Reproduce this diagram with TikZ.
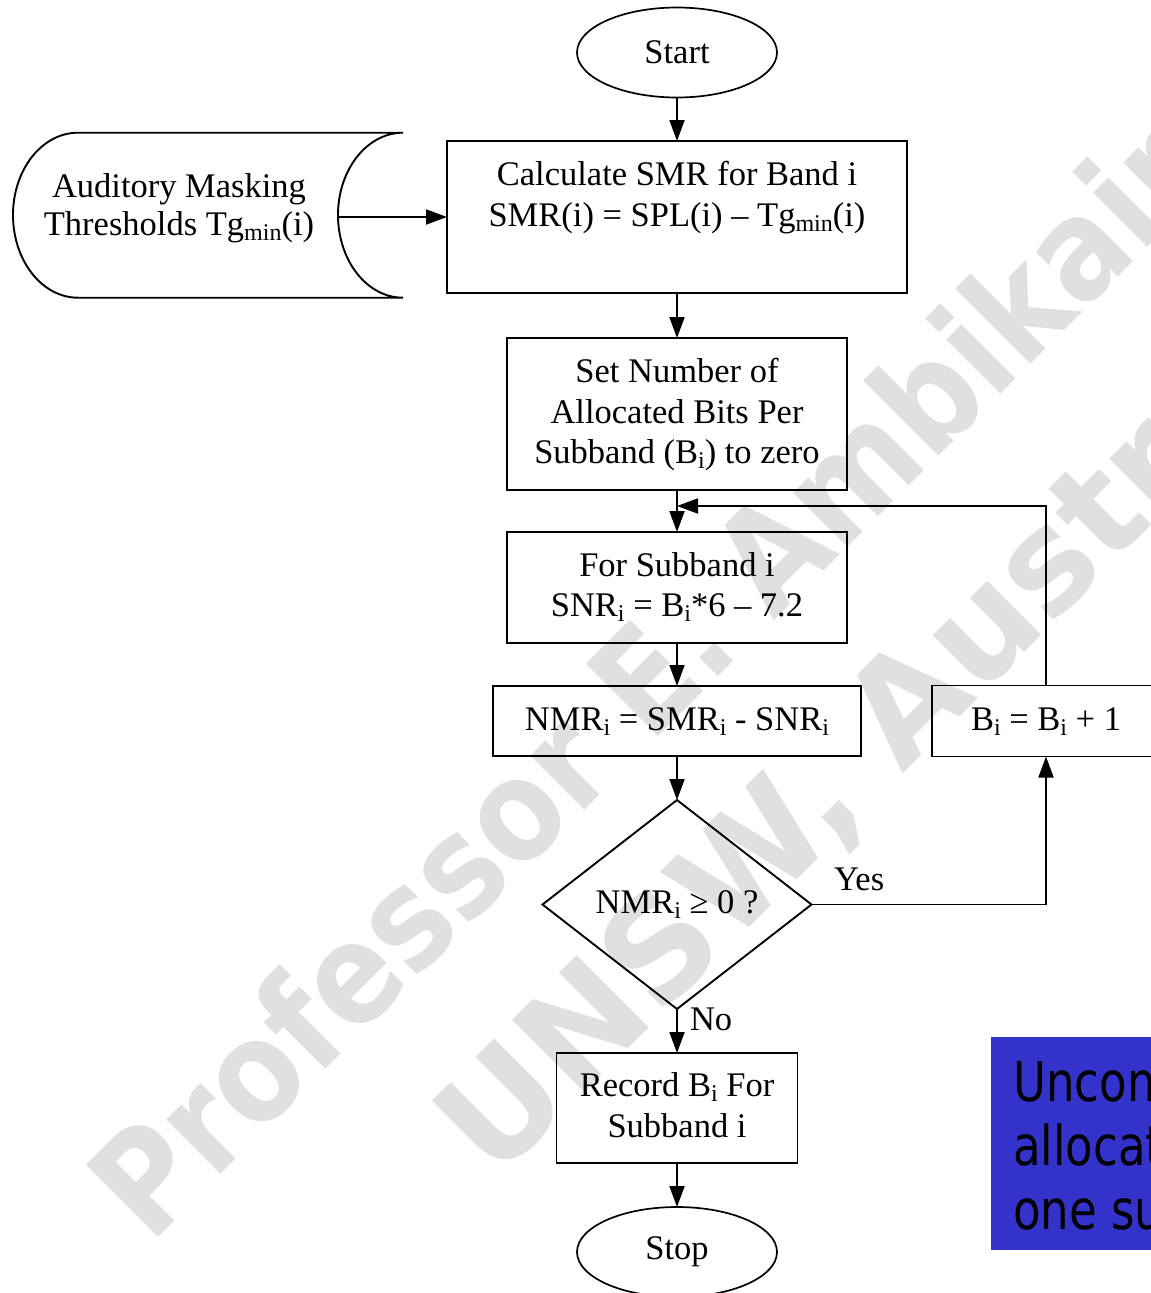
\documentclass[tikz,border=0pt]{standalone}
\usepackage{fontspec}
\setmainfont{Liberation Serif}
\newfontfamily\notefont[FakeStretch=0.82]{DejaVu Sans}
\newfontfamily\markfont[FakeStretch=0.88]{DejaVu Sans Bold}
\newfontfamily\markwidefont{DejaVu Sans Bold}
\usetikzlibrary{arrows.meta,shapes.geometric}
% lowered, smaller index text (B_i, Tg_min)
\newcommand{\lowsub}[1]{\raisebox{-5pt}{\fontsize{24}{24}\selectfont #1}}
% uniform line strut so every box line has the same height/depth
\newcommand{\fstrut}{\rule[-11.25pt]{0pt}{40.5pt}}
\definecolor{notebg}{RGB}{51,51,204}

\begin{document}
\begin{tikzpicture}[x=1pt,y=-1pt,
  every node/.style={font=\fontsize{34.5}{40.5}\selectfont, inner sep=0pt, outer sep=0pt},
  box/.style={draw, line width=1.9pt, align=center},
  term/.style={draw, ellipse, line width=1.7pt, minimum width=200pt, minimum height=90pt},
  decision/.style={draw, diamond, line width=1.9pt, minimum width=269pt, minimum height=209pt},
  arr/.style={line width=1.9pt, -{Triangle[length=21pt,width=15pt]}},
  wmark/.style={text=black!12, font=\markfont\fontsize{140}{140}\selectfont, rotate=45, anchor=base west},
  notetext/.style={font=\notefont\fontsize{55}{63.5}\selectfont, text=black, anchor=base west}
]
\useasboundingbox (0,0) rectangle (1151,1293);

% watermark, behind everything
\node[wmark] (wm1) at (150,1245) {Professor E. Ambikairajah};
\node[wmark, font=\markwidefont\fontsize{140}{140}\selectfont] (wm2) at (495,1182) {UNSW, Australia};

% terminals
\node[term] (start) at (677,52.5) {Start};
\node[term] (stop)  at (677,1252) {Stop};

% data input (stored data shape)
\draw[line width=1.9pt] (78,132.7) -- (403,132.7)
  .. controls (367,132.7) and (338,169.6) .. (338,215)
  .. controls (338,260.6) and (367,297.7) .. (403,297.7)
  -- (78,297.7)
  .. controls (42,297.7) and (13,260.6) .. (13,215)
  .. controls (13,169.6) and (42,132.7) .. (78,132.7);
\node[align=center, minimum width=318pt] (thr) at (179,207)
  {\fstrut Auditory Masking\\[-2.5pt]\fstrut Thresholds Tg\lowsub{min}(i)};

% process boxes
\node[box, minimum width=460pt, minimum height=152pt] (calc) at (677,217)
  {\fstrut Calculate SMR for Band i\\\fstrut SMR(i) = SPL(i) – Tg\lowsub{min}(i)\\\fstrut};
\node[box, minimum width=340pt, minimum height=152pt] (set) at (677,414)
  {\fstrut Set Number of\\\fstrut Allocated Bits Per\\\fstrut Subband (B\lowsub{i}) to zero};
\node[box, minimum width=340pt, minimum height=111pt] (sub) at (677,587.5)
  {\fstrut For Subband i\\\fstrut SNR\lowsub{i} = B\lowsub{i}*6 – 7.2};
\node[box, minimum width=368pt, minimum height=70pt] (nmr) at (677,721)
  {\fstrut NMR\lowsub{i} = SMR\lowsub{i} - SNR\lowsub{i}};
\node[box, minimum width=228pt, minimum height=71pt] (inc) at (1046,721)
  {\fstrut B\lowsub{i} = B\lowsub{i} + 1};
\node[decision] (dec) at (677,904.5) {\fstrut NMR\lowsub{i} ≥ 0 ?};
\node[box, minimum width=241pt, minimum height=110pt] (rec) at (677,1108)
  {\fstrut Record B\lowsub{i} For\\\fstrut Subband i};

% loop-back junction above the subband box
\coordinate (join) at (677,506);

% connectors
\draw[arr] (start) -- (calc);
\draw[arr] (thr.east |- calc.west) -- (calc.west);
\draw[arr] (calc) -- (set);
\draw[arr] (set) -- (sub);
\draw[arr] (sub) -- (nmr);
\draw[arr] (nmr) -- (dec);
\draw[arr] (dec.east) -| (inc.south);
\draw[arr] (inc.north) |- (join);
\draw[arr] (dec.south) -- (rec.north);
\draw[arr] (rec) -- (stop);

% branch labels
\node[anchor=base west] (yes) at (834,890) {Yes};
\node[anchor=base west] (no) at (690,1030) {No};

% highlighted note
\node[fill=notebg, minimum width=300pt, minimum height=213pt, anchor=north west] (note) at (991,1037) {};
\node[notetext] (note1) at (1013,1101.7) {Uncon};
\node[notetext] (note2) at (1013,1165) {allocat};
\node[notetext] (note3) at (1013,1229) {one su};
\end{tikzpicture}
\end{document}
